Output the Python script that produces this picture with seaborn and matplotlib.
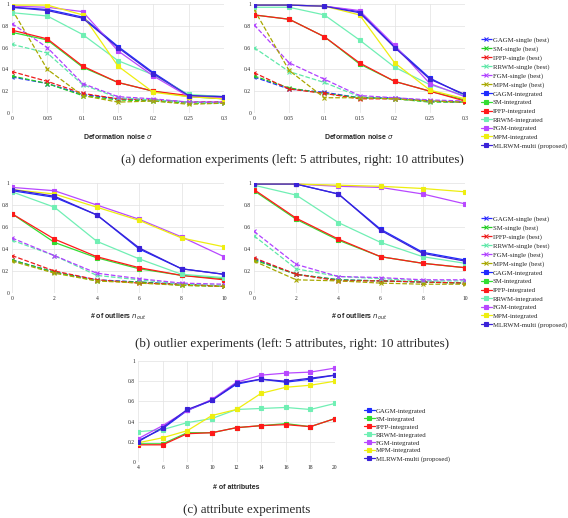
import matplotlib
matplotlib.use('Agg')
import matplotlib.pyplot as plt
import seaborn as sns

sns.set_theme(style='white')
plt.rcParams['font.family'] = ['Liberation Serif', 'DejaVu Serif']
plt.rcParams['mathtext.fontset'] = 'dejavusans'

# x values
sigma = [0, 0.05, 0.1, 0.15, 0.2, 0.25, 0.3]
sigma_labels = ['0', '0.05', '0.1', '0.15', '0.2', '0.25', '0.3']
outliers = [0, 2, 4, 6, 8, 10]
outlier_labels = ['0', '2', '4', '6', '8', '10']
n_attr = [4, 6, 8, 10, 12, 14, 16, 18, 20]
y_ticks = [0, 0.2, 0.4, 0.6, 0.8, 1]
y_labels = ['0', '0.2', '0.4', '0.6', '0.8', '1']

methods = ['GAGM', 'SM', 'IPFP', 'RRWM', 'FGM', 'MPM']

# (a) deformation, 5 attributes
def5_single = {
    'GAGM': [0.33, 0.27, 0.17, 0.13, 0.12, 0.10, 0.10],
    'SM':   [0.34, 0.27, 0.16, 0.12, 0.11, 0.09, 0.09],
    'IPFP': [0.38, 0.29, 0.18, 0.13, 0.12, 0.10, 0.10],
    'RRWM': [0.63, 0.55, 0.26, 0.14, 0.12, 0.10, 0.09],
    'FGM':  [0.82, 0.60, 0.27, 0.15, 0.13, 0.10, 0.10],
    'MPM':  [0.95, 0.40, 0.16, 0.10, 0.11, 0.08, 0.09],
}
def5_integrated = {
    'GAGM': [0.97, 0.95, 0.88, 0.61, 0.37, 0.16, 0.15],
    'SM':   [0.74, 0.67, 0.42, 0.28, 0.20, 0.15, 0.13],
    'IPFP': [0.76, 0.68, 0.43, 0.28, 0.20, 0.16, 0.13],
    'RRWM': [0.92, 0.89, 0.72, 0.48, 0.35, 0.17, 0.15],
    'FGM':  [0.98, 0.97, 0.93, 0.57, 0.34, 0.15, 0.14],
    'MPM':  [0.99, 0.99, 0.90, 0.43, 0.19, 0.15, 0.13],
}
def5_mlrwm = [0.97, 0.94, 0.87, 0.60, 0.36, 0.16, 0.15]

# (a) deformation, 10 attributes
def10_single = {
    'GAGM': [0.33, 0.22, 0.19, 0.14, 0.14, 0.11, 0.10],
    'SM':   [0.34, 0.23, 0.18, 0.14, 0.13, 0.10, 0.10],
    'IPFP': [0.37, 0.22, 0.18, 0.13, 0.13, 0.11, 0.10],
    'RRWM': [0.60, 0.38, 0.28, 0.15, 0.13, 0.11, 0.10],
    'FGM':  [0.81, 0.46, 0.31, 0.16, 0.14, 0.12, 0.11],
    'MPM':  [0.95, 0.39, 0.14, 0.14, 0.13, 0.11, 0.10],
}
def10_integrated = {
    'GAGM': [0.99, 0.99, 0.98, 0.93, 0.61, 0.32, 0.16],
    'SM':   [0.90, 0.86, 0.70, 0.45, 0.29, 0.20, 0.12],
    'IPFP': [0.90, 0.86, 0.70, 0.46, 0.29, 0.20, 0.11],
    'RRWM': [0.97, 0.97, 0.90, 0.67, 0.42, 0.26, 0.16],
    'FGM':  [0.99, 0.99, 0.98, 0.94, 0.62, 0.27, 0.15],
    'MPM':  [0.99, 0.99, 0.98, 0.90, 0.46, 0.21, 0.13],
}
def10_mlrwm = [0.99, 0.99, 0.98, 0.92, 0.60, 0.31, 0.17]

# (b) outliers, 5 attributes
out5_single = {
    'GAGM': [0.30, 0.19, 0.12, 0.10, 0.08, 0.06],
    'SM':   [0.30, 0.19, 0.11, 0.10, 0.07, 0.06],
    'IPFP': [0.34, 0.20, 0.12, 0.09, 0.08, 0.06],
    'RRWM': [0.48, 0.34, 0.16, 0.12, 0.08, 0.07],
    'FGM':  [0.50, 0.34, 0.18, 0.13, 0.09, 0.08],
    'MPM':  [0.29, 0.18, 0.11, 0.09, 0.07, 0.06],
}
out5_integrated = {
    'GAGM': [0.93, 0.87, 0.71, 0.40, 0.22, 0.17],
    'SM':   [0.72, 0.46, 0.32, 0.22, 0.16, 0.13],
    'IPFP': [0.72, 0.49, 0.33, 0.23, 0.16, 0.12],
    'RRWM': [0.92, 0.78, 0.47, 0.31, 0.17, 0.14],
    'FGM':  [0.96, 0.93, 0.80, 0.67, 0.51, 0.33],
    'MPM':  [0.94, 0.90, 0.78, 0.66, 0.50, 0.42],
}
out5_mlrwm = [0.94, 0.88, 0.71, 0.41, 0.22, 0.17]

# (b) outliers, 10 attributes
out10_single = {
    'GAGM': [0.31, 0.17, 0.12, 0.11, 0.10, 0.09],
    'SM':   [0.30, 0.17, 0.12, 0.11, 0.10, 0.09],
    'IPFP': [0.32, 0.17, 0.11, 0.11, 0.10, 0.09],
    'RRWM': [0.52, 0.22, 0.15, 0.13, 0.11, 0.11],
    'FGM':  [0.56, 0.26, 0.15, 0.14, 0.12, 0.12],
    'MPM':  [0.29, 0.12, 0.11, 0.09, 0.08, 0.08],
}
out10_integrated = {
    'GAGM': [0.99, 0.99, 0.90, 0.58, 0.37, 0.30],
    'SM':   [0.93, 0.67, 0.48, 0.33, 0.27, 0.23],
    'IPFP': [0.94, 0.68, 0.49, 0.33, 0.27, 0.23],
    'RRWM': [0.98, 0.89, 0.64, 0.46, 0.33, 0.27],
    'FGM':  [0.99, 0.99, 0.97, 0.96, 0.90, 0.81],
    'MPM':  [0.99, 0.99, 0.98, 0.97, 0.95, 0.92],
}
out10_mlrwm = [0.99, 0.99, 0.90, 0.57, 0.36, 0.29]

# (c) number of attributes
attr_integrated = {
    'GAGM': [0.21, 0.33, 0.51, 0.61, 0.77, 0.82, 0.79, 0.82, 0.86],
    'SM':   [0.18, 0.18, 0.29, 0.29, 0.34, 0.36, 0.38, 0.35, 0.43],
    'IPFP': [0.17, 0.17, 0.28, 0.29, 0.34, 0.36, 0.37, 0.35, 0.43],
    'RRWM': [0.30, 0.32, 0.39, 0.43, 0.52, 0.53, 0.54, 0.52, 0.58],
    'FGM':  [0.23, 0.36, 0.51, 0.62, 0.79, 0.86, 0.88, 0.89, 0.93],
    'MPM':  [0.19, 0.24, 0.31, 0.46, 0.52, 0.68, 0.74, 0.76, 0.80],
}
attr_mlrwm = [0.20, 0.34, 0.52, 0.61, 0.78, 0.82, 0.80, 0.83, 0.86]

single_colors = {'GAGM': '#2a2aff', 'SM': '#22cc22', 'IPFP': '#ee1a1a',
                 'RRWM': '#5fe8a8', 'FGM': '#b040ff', 'MPM': '#a8a800'}
int_colors = {'GAGM': '#1e2cff', 'SM': '#33dd33', 'IPFP': '#ff1a1a',
              'RRWM': '#70efb4', 'FGM': '#b848ff', 'MPM': '#eeee10'}
mlrwm_color = '#3a22d8'

W, H = 568, 518
fig = plt.figure(figsize=(W / 100, H / 100), dpi=100)


def box(l, t, r, b):
    return [l / W, 1 - b / H, (r - l) / W, (b - t) / H]


def draw(ax, x, single, integrated, mlrwm):
    kw = dict(ax=ax, legend=False, linewidth=0.9, markersize=2.6, markeredgewidth=0.8)
    if single is not None:
        for m in methods:
            c = single_colors[m]
            sns.lineplot(x=x, y=single[m], color=c, linestyle='--', marker='x',
                         markeredgecolor=c, label=f'{m}-single (best)', **kw)
    for m in methods:
        c = int_colors[m]
        sns.lineplot(x=x, y=integrated[m], color=c, marker='s',
                     markeredgecolor=c, label=f'{m}-integrated', **kw)
    sns.lineplot(x=x, y=mlrwm, color=mlrwm_color, marker='s',
                 markeredgecolor=mlrwm_color, label='MLRWM-multi (proposed)', **kw)


def style(ax, x, xlabels, xlabel, label_y):
    ax.set_xlim(x[0], x[-1])
    ax.set_ylim(0, 1)
    ax.set_xticks(x)
    ax.set_xticklabels(xlabels)
    ax.set_yticks(y_ticks)
    ax.set_yticklabels(y_labels)
    ax.tick_params(labelsize=4, length=0, pad=2)
    ax.grid(True, color='#e2e2e2', linewidth=0.5)
    for s in ax.spines.values():
        s.set_visible(False)
    ax.set_xlabel(xlabel, fontsize=5, fontweight='bold',
                  family=['Liberation Sans', 'DejaVu Sans'])
    ax.xaxis.set_label_coords(0.5, label_y)
    ax.xaxis.label.set_va('center')


leg_kw = dict(loc='upper left', frameon=False, fontsize=4.9, handlelength=1.6,
              handletextpad=0.12, labelspacing=0.42, borderpad=0, borderaxespad=0)

ax1 = fig.add_axes(box(12, 4, 224, 113))
draw(ax1, sigma, def5_single, def5_integrated, def5_mlrwm)
style(ax1, sigma, sigma_labels, r'Deformation noise $\sigma$', -0.22)

ax2 = fig.add_axes(box(254, 4, 465, 113))
draw(ax2, sigma, def10_single, def10_integrated, def10_mlrwm)
style(ax2, sigma, sigma_labels, r'Deformation noise $\sigma$', -0.22)
h, l = ax2.get_legend_handles_labels()
fig.legend(h, l, bbox_to_anchor=(481 / W, 1 - 37 / H), **leg_kw)

ax3 = fig.add_axes(box(12, 183, 224, 293))
draw(ax3, outliers, out5_single, out5_integrated, out5_mlrwm)
style(ax3, outliers, outlier_labels, r'# of outliers $n_{out}$', -0.22)

ax4 = fig.add_axes(box(254, 183, 465, 293))
draw(ax4, outliers, out10_single, out10_integrated, out10_mlrwm)
style(ax4, outliers, outlier_labels, r'# of outliers $n_{out}$', -0.22)
h, l = ax4.get_legend_handles_labels()
fig.legend(h, l, bbox_to_anchor=(481 / W, 1 - 216 / H), **leg_kw)

ax5 = fig.add_axes(box(138, 361, 335, 462))
draw(ax5, n_attr, None, attr_integrated, attr_mlrwm)
style(ax5, n_attr, [str(v) for v in n_attr], '# of attributes', -0.25)
h, l = ax5.get_legend_handles_labels()
leg_c = dict(leg_kw, labelspacing=0.32)
fig.legend(h, l, bbox_to_anchor=(364 / W, 1 - 408 / H), **leg_c)

cap_kw = dict(ha='center', va='center', fontsize=9.4)
fig.text(292 / W, 1 - 160 / H,
         '(a) deformation experiments (left: 5 attributes, right: 10 attributes)', **cap_kw)
fig.text(292 / W, 1 - 344 / H,
         r'(b) outlier experiments (left: 5 attributes, right: 10 attributes)', **cap_kw)
fig.text(247 / W, 1 - 510 / H, '(c) attribute experiments', **cap_kw)

fig.savefig('out.png', dpi=100)
